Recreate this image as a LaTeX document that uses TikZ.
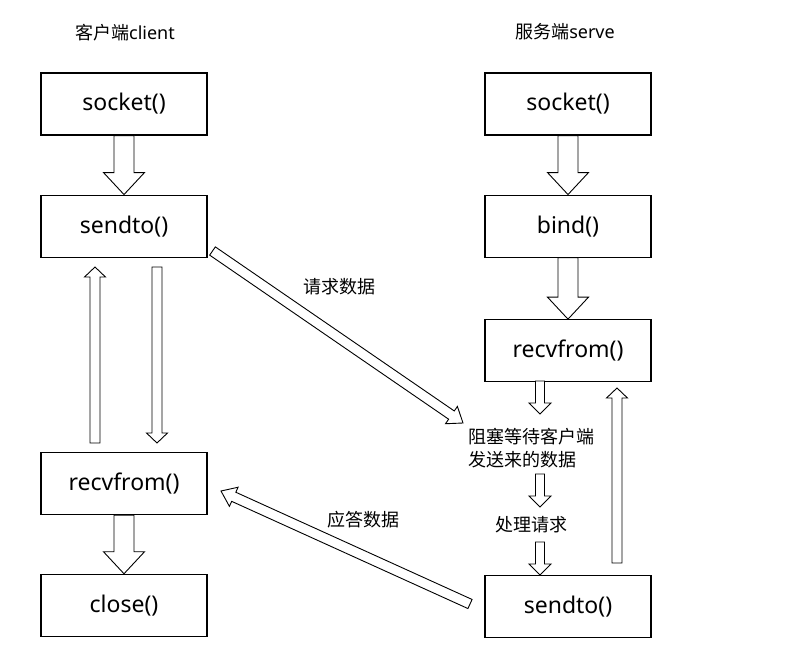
\documentclass[tikz,border=0pt]{standalone}
\usepackage{fontspec}
\setmainfont{Noto Sans}
\newfontfamily\cjk{Noto Sans CJK SC}
\usetikzlibrary{calc, positioning}

% hollow block arrow: tail, tip, half shaft, half head, head length
\newcommand{\fatarrow}[5]{%
  \coordinate (fa-h) at ($(#2)!#5!(#1)$);
  \draw[fatline] ($(#1)!#3!90:(#2)$) -- ($(fa-h)!#3!90:(#2)$)
    -- ($(fa-h)!#4!90:(#2)$) -- (#2) -- ($(fa-h)!#4!-90:(#2)$)
    -- ($(fa-h)!#3!-90:(#2)$) -- ($(#1)!#3!-90:(#2)$) -- cycle;
}

\begin{document}
\begin{tikzpicture}[x=1pt, y=-1pt,
    box/.style={rectangle, draw, line width=1.1pt, minimum width=166pt,
                minimum height=62pt, font=\fontsize{23}{27}\selectfont},
    lbl/.style={font=\cjk\fontsize{18}{23}\selectfont, align=center, inner sep=0pt},
    fatline/.style={fill=white, line width=0.9pt, line join=miter},
]
    \useasboundingbox (0,0) rectangle (801,670);

    % --- client column ---
    \node[lbl] (ltitle) at (125,33) {客户端{\rmfamily client}};
    \node[box] (lsock) at (124,104) {socket()};
    \node[box, below=59pt of lsock] (lsend) {sendto()};
    \node[box, below=194.5pt of lsend] (lrecv) {recvfrom()};
    \node[box, below=58.5pt of lrecv] (lclose) {close()};

    % --- server column ---
    \node[lbl] (rtitle) at (565,32) {服务端{\rmfamily serve}};
    \node[box] (rsock) at (568,104) {socket()};
    \node[box, below=59pt of rsock] (rbind) {bind()};
    \node[box, below=61.5pt of rbind] (rrecv) {recvfrom()};
    \node[box, below=192.5pt of rrecv] (rsend) {sendto()};

    % --- labels ---
    \node[lbl] (req) at (339,287) {请求数据};
    \node[lbl] (rep) at (363,520) {应答数据};
    \node[lbl, align=left] (wait) at (531,448) {阻塞等待客户端\\发送来的数据};
    \node[lbl] (proc) at (531,525) {处理请求};

    % free ends
    \coordinate (lupA) at (95,443);   \coordinate (lupB) at (95,267);
    \coordinate (ldnA) at (157,267);  \coordinate (ldnB) at (157,443);
    \coordinate (reqA) at (212.5,251); \coordinate (reqB) at (463,423);
    \coordinate (repA) at (470,604);  \coordinate (repB) at (221,491);
    \coordinate (rupA) at (617,563);  \coordinate (rupB) at (617,388);
    \coordinate (w1A) at (540,381);   \coordinate (w1B) at (540,414);
    \coordinate (w2A) at (540,474);   \coordinate (w2B) at (540,507);
    \coordinate (w3A) at (540,542);   \coordinate (w3B) at (540,575);

    % --- big arrows ---
    \fatarrow{lsock.south}{lsend.north}{10pt}{20.5pt}{22pt}
    \fatarrow{lrecv.south}{lclose.north}{10pt}{20.5pt}{22pt}
    \fatarrow{rsock.south}{rbind.north}{10pt}{20.5pt}{22pt}
    \fatarrow{rbind.south}{rrecv.north}{10pt}{20.5pt}{22pt}

    % --- thin arrows ---
    \fatarrow{lupA}{lupB}{5pt}{10.5pt}{10pt}
    \fatarrow{ldnA}{ldnB}{5pt}{10.5pt}{10pt}
    \fatarrow{reqA}{reqB}{5pt}{10.5pt}{14pt}
    \fatarrow{repA}{repB}{5pt}{10.5pt}{14pt}
    \fatarrow{rupA}{rupB}{5pt}{10.5pt}{10pt}
    \fatarrow{w1A}{w1B}{4.5pt}{11pt}{11pt}
    \fatarrow{w2A}{w2B}{4.5pt}{11pt}{11pt}
    \fatarrow{w3A}{w3B}{4.5pt}{11pt}{11pt}
\end{tikzpicture}
\end{document}
